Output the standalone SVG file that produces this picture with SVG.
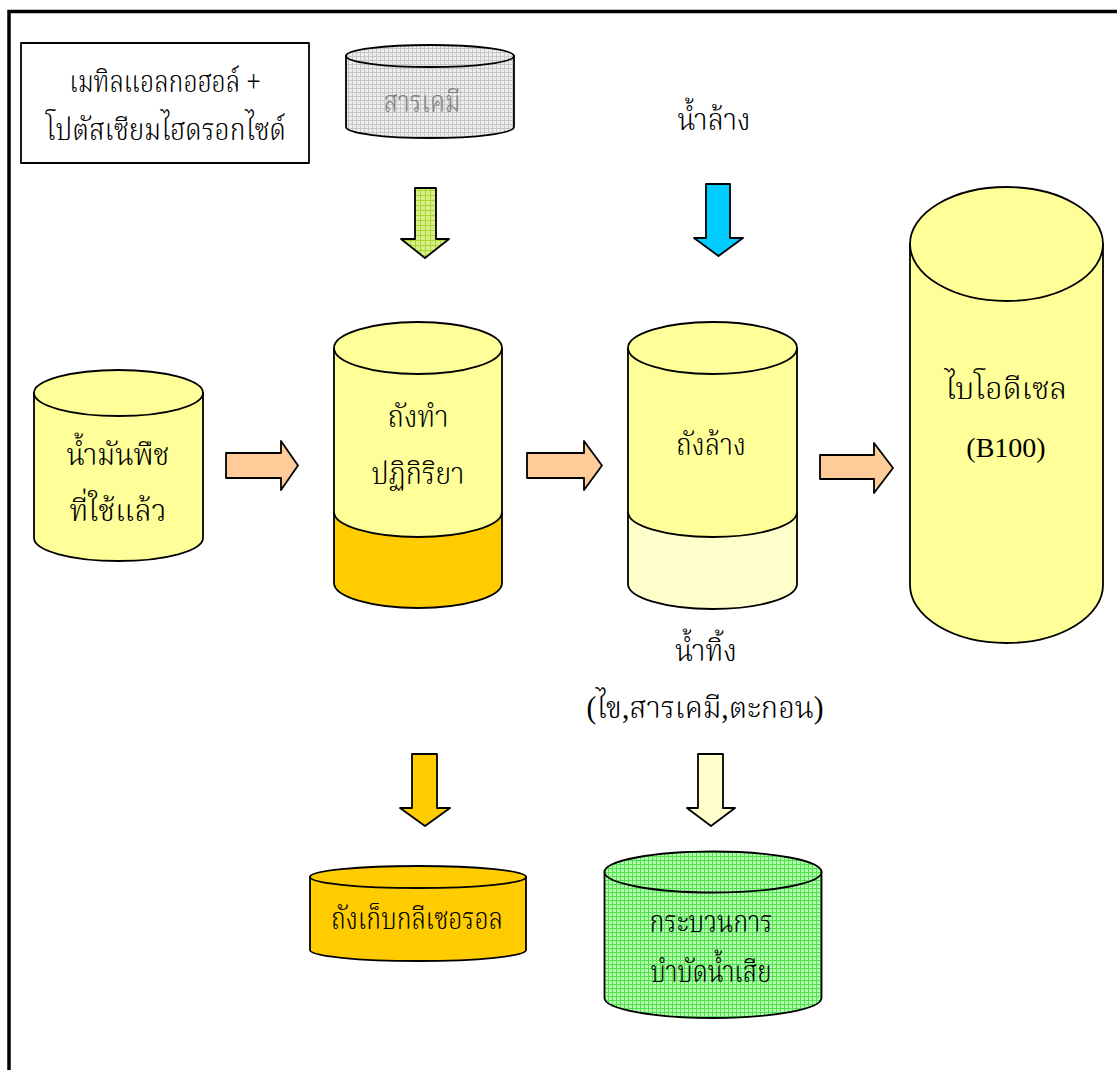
<svg xmlns="http://www.w3.org/2000/svg" width="1117" height="1070" viewBox="0 0 1117 1070">
  <defs>
    <pattern id="gridGrey" width="4" height="4" patternUnits="userSpaceOnUse">
      <rect width="4" height="4" fill="#ededed"/>
      <path d="M0 0.5H4M0.5 0V4" stroke="#c6c6c6" stroke-width="1"/>
    </pattern>
    <pattern id="gridGreen" width="4" height="4" patternUnits="userSpaceOnUse">
      <rect width="4" height="4" fill="#b4fbb0"/>
      <path d="M0 0.5H4M0.5 0V4" stroke="#4ee24e" stroke-width="1"/>
    </pattern>
    <pattern id="gridLime" width="5" height="5" patternUnits="userSpaceOnUse">
      <rect width="5" height="5" fill="#d6ef8c"/>
      <path d="M0 0.5H5M0.5 0V5" stroke="#a9d62e" stroke-width="1"/>
    </pattern>
  </defs>
  <style>
    .ol { stroke: #000; stroke-width: 1.8; stroke-linejoin: round; }
    .nf { fill: none; }
    .yel { fill: #ffff99; }
    .gold { fill: #ffcc00; }
    .pale { fill: #ffffcc; }
    .peach { fill: #ffcc99; }
    .t { font-family: "Liberation Serif", "Noto Serif Thai", "Noto Sans Thai", serif; font-size: 31px; font-weight: 300; fill: #000; text-anchor: middle; }
    .lat { font-size: 28px; font-weight: 400; }
  </style>

  <rect width="1117" height="1070" fill="#ffffff"/>
  <!-- page frame -->
  <rect x="9" y="11.5" width="1130" height="1090" fill="none" stroke="#000" stroke-width="3.5"/>

  <!-- methanol + KOH label box -->
  <g id="reagent-box">
    <rect x="21" y="43" width="288" height="120" fill="#fff" class="ol"/>
    <text class="t" x="165" y="92" textLength="191" lengthAdjust="spacingAndGlyphs">เมทิลแอลกอฮอล์ +</text>
    <text class="t" x="166" y="140" textLength="240" lengthAdjust="spacingAndGlyphs">โปตัสเซียมไฮดรอกไซด์</text>
  </g>

  <!-- chemicals drum -->
  <g id="chemicals">
    <path d="M346 56 V127 A84 11 0 0 0 514 127 V56 Z" fill="url(#gridGrey)" class="ol"/>
    <ellipse cx="430" cy="56" rx="84" ry="11" fill="url(#gridGrey)" class="ol"/>
    <text class="t" x="422" y="112" textLength="77" lengthAdjust="spacingAndGlyphs" style="fill:#808080">สารเคมี</text>
  </g>

  <!-- wash water label -->
  <g id="wash-water">
    <text class="t" x="714" y="130" textLength="73" lengthAdjust="spacingAndGlyphs">น้ำล้าง</text>
  </g>

  <!-- used vegetable oil tank -->
  <g id="used-oil">
    <path d="M34 393 V538 A84.5 23 0 0 0 203 538 V393 Z" class="yel ol"/>
    <ellipse cx="118.5" cy="393" rx="84.5" ry="23" class="yel ol"/>
    <text class="t" x="118" y="465" textLength="103" lengthAdjust="spacingAndGlyphs">น้ำมันพืช</text>
    <text class="t" x="118" y="521" textLength="97" lengthAdjust="spacingAndGlyphs">ที่ใช้แล้ว</text>
  </g>

  <!-- reaction tank -->
  <g id="reactor">
    <path d="M334 348 V512 A84 25 0 0 0 502 512 V348 Z" class="yel"/>
    <path d="M334 512 A84 25 0 0 0 502 512 V583 A84 25 0 0 1 334 583 Z" class="gold"/>
    <path d="M334 348 V583 A84 25 0 0 0 502 583 V348" class="nf ol"/>
    <path d="M334 512 A84 25 0 0 0 502 512" class="nf ol"/>
    <ellipse cx="418" cy="348" rx="84" ry="26" class="yel ol"/>
    <text class="t" x="418" y="427" textLength="61" lengthAdjust="spacingAndGlyphs">ถังทำ</text>
    <text class="t" x="418" y="484" textLength="93" lengthAdjust="spacingAndGlyphs">ปฏิกิริยา</text>
  </g>

  <!-- washing tank -->
  <g id="wash-tank">
    <path d="M628 348 V512 A84.5 25 0 0 0 797 512 V348 Z" class="yel"/>
    <path d="M628 512 A84.5 25 0 0 0 797 512 V584 A84.5 25 0 0 1 628 584 Z" class="pale"/>
    <path d="M628 348 V584 A84.5 25 0 0 0 797 584 V348" class="nf ol"/>
    <path d="M628 512 A84.5 25 0 0 0 797 512" class="nf ol"/>
    <ellipse cx="712.5" cy="348" rx="84.5" ry="26" class="yel ol"/>
    <text class="t" x="711" y="455" textLength="70" lengthAdjust="spacingAndGlyphs">ถังล้าง</text>
  </g>

  <!-- biodiesel tank -->
  <g id="biodiesel">
    <path d="M910 244 V585 A96.5 58 0 0 0 1103 585 V244 Z" class="yel ol"/>
    <ellipse cx="1006.5" cy="244" rx="96.5" ry="57" class="yel ol"/>
    <text class="t" x="1006" y="399" textLength="122" lengthAdjust="spacingAndGlyphs">ไบโอดีเซล</text>
    <text class="t lat" x="1006" y="457">(B100)</text>
  </g>

  <!-- waste water label -->
  <g id="waste-water">
    <text class="t" x="706" y="661" textLength="62" lengthAdjust="spacingAndGlyphs">น้ำทิ้ง</text>
    <text class="t" x="705" y="718" textLength="237" lengthAdjust="spacingAndGlyphs">(ไข,สารเคมี,ตะกอน)</text>
  </g>

  <!-- glycerol storage tank -->
  <g id="glycerol">
    <path d="M310 877 V950 A108 11 0 0 0 526 950 V877 Z" class="gold ol"/>
    <ellipse cx="418" cy="877" rx="108" ry="11" class="gold ol"/>
    <text class="t" x="417" y="929" textLength="172" lengthAdjust="spacingAndGlyphs">ถังเก็บกลีเซอรอล</text>
  </g>

  <!-- wastewater treatment -->
  <g id="treatment">
    <path d="M604.5 872 V998 A108.5 20 0 0 0 821.5 998 V872 Z" fill="url(#gridGreen)" class="ol"/>
    <ellipse cx="713" cy="872" rx="108.5" ry="20.5" fill="url(#gridGreen)" class="ol"/>
    <text class="t" x="711" y="932" textLength="123" lengthAdjust="spacingAndGlyphs">กระบวนการ</text>
    <text class="t" x="711" y="982" textLength="121" lengthAdjust="spacingAndGlyphs">บำบัดน้ำเสีย</text>
  </g>

  <!-- block arrows between stages -->
  <g id="connectors">
    <polygon points="415,188 436,188 436,239 449,239 425,258 401,239 415,239" fill="url(#gridLime)" class="ol"/>
    <polygon points="706,184 730,184 730,238 743,238 718.5,256 694,238 706,238" fill="#00ccff" class="ol"/>
    <polygon points="226,453 281,453 281,441 298,465.5 281,490 281,478 226,478" class="peach ol"/>
    <polygon points="527,453 584,453 584,441 602,465.5 584,490 584,478 527,478" class="peach ol"/>
    <polygon points="820,455 874,455 874,443 893,468 874,493 874,479 820,479" class="peach ol"/>
    <polygon points="412,754 437,754 437,808 450,808 425,826 400,808 412,808" class="gold ol"/>
    <polygon points="698,754 723,754 723,808 735,808 711,826 687,808 698,808" class="pale ol"/>
  </g>
</svg>
